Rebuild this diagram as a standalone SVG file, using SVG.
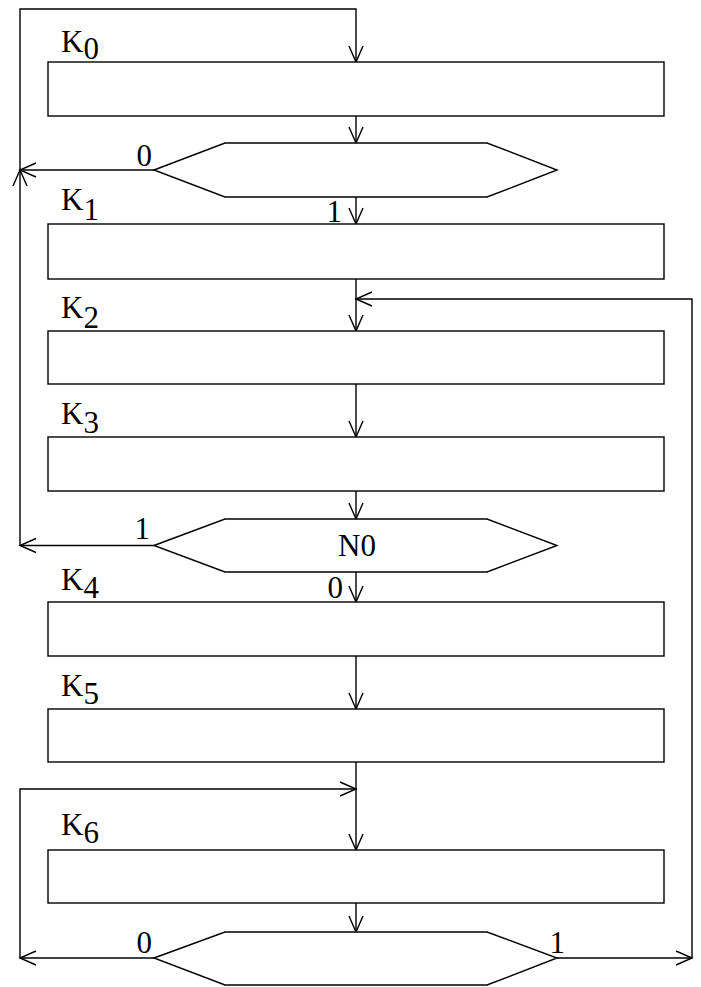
<svg xmlns="http://www.w3.org/2000/svg" width="701" height="987" viewBox="0 0 701 987">
  <style>
    .box { fill: #fff; stroke: #000; stroke-width: 1.4; }
    .wire { fill: none; stroke: #000; stroke-width: 1.4; }
    .arrow { marker-end: url(#vee); }
    text { font-family: "Liberation Serif", "Times New Roman", serif; font-size: 31px; fill: #000; }
  </style>
  <defs>
    <marker id="vee" markerUnits="userSpaceOnUse" viewBox="-17 -9 19 18" refX="0" refY="0" markerWidth="19" markerHeight="18" orient="auto" overflow="visible">
      <path d="M-16,-7 L0,0 L-16,7" fill="none" stroke="#000" stroke-width="1.4"/>
    </marker>
  </defs>

  <rect width="701" height="987" fill="#fff"/>

  <!-- connectors -->
  <g id="connectors">
    <!-- top loop back to K0 -->
    <path class="wire arrow" d="M154,170 H20"/>
    <path class="wire arrow" d="M154,545.5 H20"/>
    <path class="wire arrow" d="M20,545.5 V170"/>
    <path class="wire arrow" d="M20,170 V9 H356 V62"/>
    <!-- main flow -->
    <path class="wire arrow" d="M356,116 V143"/>
    <path class="wire arrow" d="M356,197 V224"/>
    <path class="wire arrow" d="M356,279 V331"/>
    <path class="wire arrow" d="M356,384 V437"/>
    <path class="wire arrow" d="M356,491 V519"/>
    <path class="wire arrow" d="M356,572 V602"/>
    <path class="wire arrow" d="M356,656 V709"/>
    <path class="wire arrow" d="M356,762 V850"/>
    <path class="wire arrow" d="M356,903 V932"/>
    <!-- right loop back to K2 -->
    <path class="wire arrow" d="M557,958 H692"/>
    <path class="wire arrow" d="M692,958 V299 H356"/>
    <!-- left loop back to K6 -->
    <path class="wire arrow" d="M154,958 H20"/>
    <path class="wire arrow" d="M20,958 V789 H356"/>
  </g>

  <!-- process blocks -->
  <g id="K0">
    <rect class="box" x="48" y="62" width="616" height="54"/>
    <text x="61" y="52">K<tspan dy="7">0</tspan></text>
  </g>
  <g id="cond1">
    <polygon class="box" points="154,170 225,143 487,143 557,170 487,197 225,197"/>
    <text x="152" y="166" text-anchor="end">0</text>
    <text x="342" y="222" text-anchor="end">1</text>
  </g>
  <g id="K1">
    <rect class="box" x="48" y="224" width="616" height="55"/>
    <text x="61" y="210">K<tspan dy="10">1</tspan></text>
  </g>
  <g id="K2">
    <rect class="box" x="48" y="331" width="616" height="53"/>
    <text x="61" y="318">K<tspan dy="10">2</tspan></text>
  </g>
  <g id="K3">
    <rect class="box" x="48" y="437" width="616" height="54"/>
    <text x="61" y="424">K<tspan dy="9">3</tspan></text>
  </g>
  <g id="N0">
    <polygon class="box" points="154,545.5 225,519 487,519 557,545.5 487,572 225,572"/>
    <text x="357" y="556" text-anchor="middle">N0</text>
    <text x="150" y="539" text-anchor="end">1</text>
    <text x="343" y="598" text-anchor="end">0</text>
  </g>
  <g id="K4">
    <rect class="box" x="48" y="602" width="616" height="54"/>
    <text x="61" y="590">K<tspan dy="8">4</tspan></text>
  </g>
  <g id="K5">
    <rect class="box" x="48" y="709" width="616" height="53"/>
    <text x="61" y="696">K<tspan dy="8">5</tspan></text>
  </g>
  <g id="K6">
    <rect class="box" x="48" y="850" width="616" height="53"/>
    <text x="61" y="835">K<tspan dy="8">6</tspan></text>
  </g>
  <g id="cond3">
    <polygon class="box" points="154,958 225,932 487,932 557,958 487,985 225,985"/>
    <text x="152" y="953" text-anchor="end">0</text>
    <text x="565" y="953" text-anchor="end">1</text>
  </g>
</svg>
